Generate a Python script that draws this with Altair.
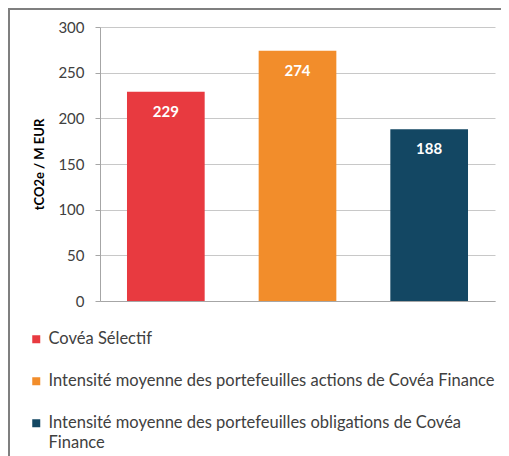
import altair as alt
import pandas as pd

series = [
    "Covéa Sélectif",
    "Intensité moyenne des portefeuilles actions de Covéa Finance",
    "Intensité moyenne des portefeuilles obligations de Covéa Finance",
]
legend_lines = [
    ["Covéa Sélectif", ""],
    ["Intensité moyenne des portefeuilles actions de Covéa Finance", ""],
    ["Intensité moyenne des portefeuilles obligations de Covéa", "Finance"],
]
values = [229, 274, 188]
colors = ["#E83A40", "#F28D2B", "#134763"]
y_ticks = [0, 50, 100, 150, 200, 250, 300]

df = pd.DataFrame({"serie": series, "valeur": values})

# label expression: map each series to its (wrapped) lines
expr = ""
for s, lines in zip(series, legend_lines):
    expr += "datum.label == '%s' ? ['%s', '%s'] : " % (s, lines[0], lines[1])
expr += "[datum.label, '']"

FONT = "Lato"
TXT = "#404040"

x_enc = alt.X(
    "serie:N",
    sort=series,
    scale=alt.Scale(paddingInner=0.41, paddingOuter=0.205),
    axis=alt.Axis(labels=False, ticks=False, title=None, grid=False,
                  domainColor="#a6a6a6", domainWidth=1),
)
y_enc = alt.Y(
    "valeur:Q",
    scale=alt.Scale(domain=[0, 300], nice=False),
    axis=alt.Axis(
        values=y_ticks, title="tCO2e / M EUR", titleFont=FONT, titleFontSize=13,
        titleFontWeight="bold", titleColor="#000000", titlePadding=11,
        labelFont=FONT, labelFontSize=15, labelColor=TXT, labelPadding=11,
        tickSize=5, tickColor="#a6a6a6", domainColor="#a6a6a6",
        gridColor="#c8c8c8", gridWidth=1,
    ),
)

bars = alt.Chart(df).mark_bar().encode(
    x=x_enc,
    y=y_enc,
    color=alt.Color(
        "serie:N",
        sort=series,
        scale=alt.Scale(domain=series, range=colors),
        legend=alt.Legend(
            title=None, orient="none", legendX=-72, legendY=304,
            direction="vertical", padding=0, rowPadding=5,
            symbolType="square", symbolSize=64, symbolStrokeWidth=0,
            symbolOpacity=1, labelFont=FONT, labelFontSize=16.5, labelColor=TXT,
            labelLimit=600, labelOffset=4, labelExpr=expr,
        ),
    ),
)

labels = alt.Chart(df).mark_text(
    dy=20, color="white", font=FONT, fontSize=15, fontWeight="bold"
).encode(x=alt.X("serie:N", sort=series), y="valeur:Q", text="valeur:Q")

border = alt.Chart(alt.Data(values=[{}])).mark_rect(
    fill=None, stroke="#7f7f7f", strokeWidth=2, clip=False
).encode(x=alt.value(-91), x2=alt.value(600), y=alt.value(-18), y2=alt.value(600))

chart = (
    alt.layer(border, bars, labels)
    .properties(
        width=395, height=274,
        padding={"left": 92, "top": 19, "right": 6, "bottom": 155},
        autosize=alt.AutoSizeParams(type="none"),
        background="white",
    )
    .configure(style={"guide-label": {"lineHeight": 20}})
    .configure_view(stroke=None)
)

chart.save("out.html", embed_options={"renderer": "svg", "actions": False})
